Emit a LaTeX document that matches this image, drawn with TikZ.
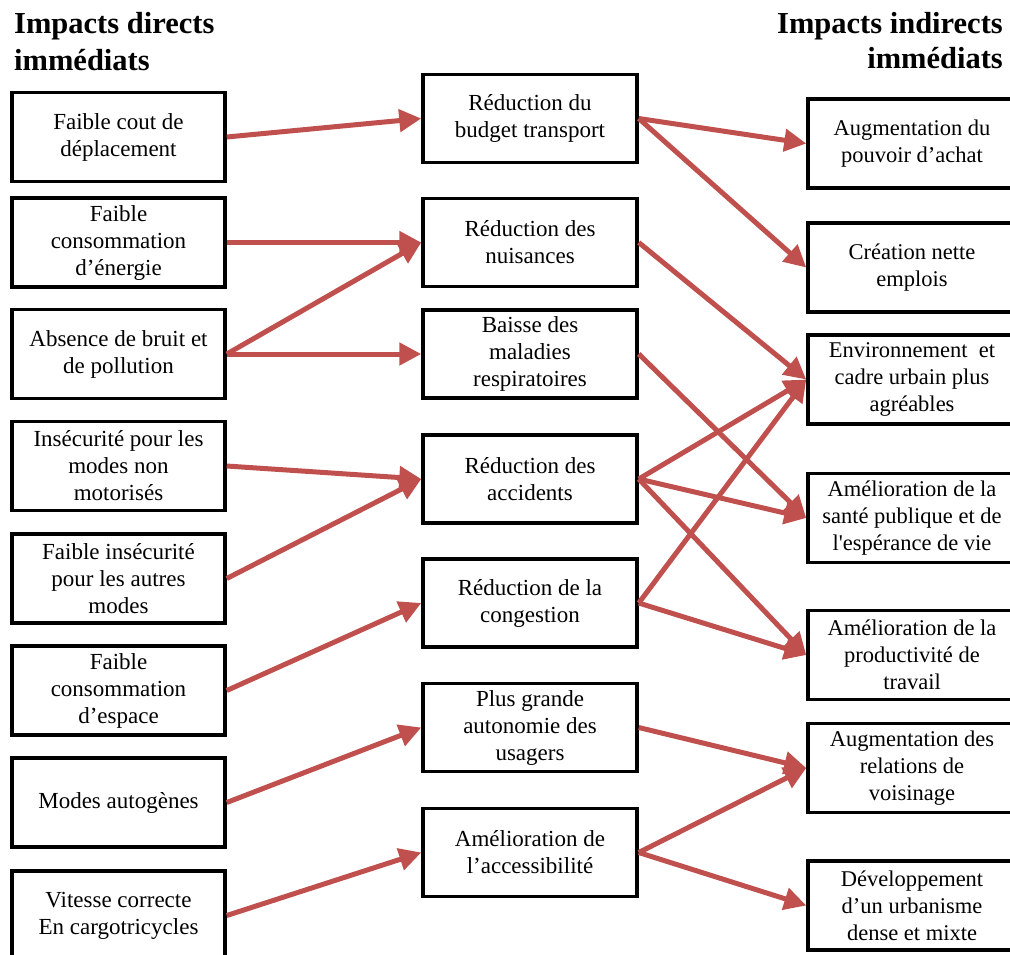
\documentclass[tikz,border=0pt]{standalone}
\usepackage{fontspec}
\newfontfamily\txtfont{Liberation Serif}
\usetikzlibrary{arrows.meta}
\definecolor{arrred}{RGB}{192,80,77}
\tikzset{
  box/.style={draw=black, line width=3.5pt, fill=white, inner sep=0pt, align=center,
    font=\txtfont\fontsize{23}{27}\selectfont},
  lbox/.style={box, minimum width=213pt, minimum height=89pt},
  mbox/.style={box, minimum width=214pt, minimum height=88pt},
  rbox/.style={box, minimum width=208pt, minimum height=89pt,
    font=\txtfont\fontsize{22.5}{27}\selectfont},
  link/.style={draw=arrred, line width=5pt, -{Triangle[length=22pt,width=22pt]}},
  hdr/.style={font=\txtfont\bfseries\fontsize{30.5}{37}\selectfont, inner sep=0pt},
}
\begin{document}
\begin{tikzpicture}[x=1pt, y=-1pt]
\useasboundingbox (0,0) rectangle (1010,954);
\clip (0,0) rectangle (1010,954);

% headers
\node[hdr, anchor=base west] (hl1) at (14,33) {Impacts directs};
\node[hdr, anchor=base west] (hl2) at (14,70) {immédiats};
\node[hdr, anchor=base east] (hr1) at (1003,33) {Impacts indirects};
\node[hdr, anchor=base east] (hr2) at (1003,68) {immédiats};

% left column
\node[lbox] (L1) at (118.5,137)   {Faible cout de\\déplacement};
\node[lbox] (L2) at (118.5,242.5) {Faible\\consommation\\d’énergie};
\node[lbox] (L3) at (118.5,354)   {Absence de bruit et\\de pollution};
\node[lbox] (L4) at (118.5,466)   {Insécurité pour les\\modes non\\motorisés};
\node[lbox] (L5) at (118.5,578.5) {Faible insécurité\\pour les autres\\modes};
\node[lbox] (L6) at (118.5,690.5) {Faible\\consommation\\d’espace};
\node[lbox] (L7) at (118.5,802.5) {Modes autogènes};
\node[lbox] (L8) at (118.5,915.5) {Vitesse correcte\\En cargotricycles};

% middle column
\node[mbox] (M1) at (530,118.5) {Réduction du\\budget transport};
\node[mbox] (M2) at (530,242.5) {Réduction des\\nuisances};
\node[mbox] (M3) at (530,354)   {Baisse des\\maladies\\respiratoires};
\node[mbox] (M4) at (530,479)   {Réduction des\\accidents};
\node[mbox] (M5) at (530,603)   {Réduction de la\\congestion};
\node[mbox] (M6) at (530,727.5) {Plus grande\\autonomie des\\usagers};
\node[mbox] (M7) at (530,852.5) {Amélioration de\\l’accessibilité};

% right column
\node[rbox] (R1) at (912,143.5) {Augmentation du\\pouvoir d’achat};
\node[rbox] (R2) at (912,267.5) {Création nette\\emplois};
\node[rbox] (R3) at (912,379.5) {Environnement\ \ et\\cadre urbain plus\\agréables};
\node[rbox] (R4) at (912,518)   {Amélioration de la\\santé publique et de\\l'espérance de vie};
\node[rbox] (R5) at (912,655)   {Amélioration de la\\productivité de\\travail};
\node[rbox] (R6) at (912,768)   {Augmentation des\\relations de\\voisinage};
\node[rbox] (R7) at (912,905.5) {Développement\\d’un urbanisme\\dense et mixte};

% left -> middle
\draw[link] (L1.east) -- (M1.west);
\draw[link] (L2.east) -- (M2.west);
\draw[link] (L3.east) -- (M2.west);
\draw[link] (L3.east) -- (M3.west);
\draw[link] (L4.east) -- (M4.west);
\draw[link] (L5.east) -- (M4.west);
\draw[link] (L6.east) -- (M5.west);
\draw[link] (L7.east) -- (M6.west);
\draw[link] (L8.east) -- (M7.west);

% middle -> right
\draw[link] (M1.east) -- (R1.west);
\draw[link] (M1.east) -- (R2.west);
\draw[link] (M2.east) -- (R3.west);
\draw[link] (M3.east) -- (R4.west);
\draw[link] (M4.east) -- (R3.west);
\draw[link] (M4.east) -- (R4.west);
\draw[link] (M4.east) -- (R5.west);
\draw[link] (M5.east) -- (R3.west);
\draw[link] (M5.east) -- (R5.west);
\draw[link] (M6.east) -- (R6.west);
\draw[link] (M7.east) -- (R6.west);
\draw[link] (M7.east) -- (R7.west);
\end{tikzpicture}
\end{document}
